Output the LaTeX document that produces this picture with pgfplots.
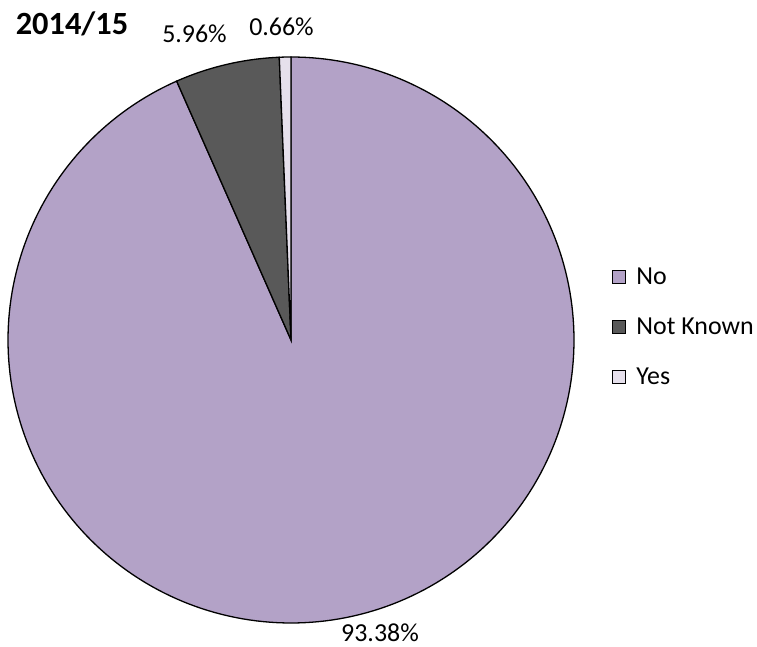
\documentclass[border=0pt]{standalone}
\usepackage{fontspec}
\setmainfont{Carlito}
\usepackage{pgfplots}
\pgfplotsset{compat=1.18}
\definecolor{cNo}{HTML}{B3A2C7}
\definecolor{cNK}{HTML}{595959}
\definecolor{cYes}{HTML}{E6E0EC}
\begin{document}
\begin{tikzpicture}
\def\cx{291}\def\cy{307}\def\r{283}
\def\vNo{93.38}\def\vNK{5.96}\def\vYes{0.66}
\pgfmathsetmacro\aA{90}
\pgfmathsetmacro\aB{90-3.6*\vNo}
\pgfmathsetmacro\aC{\aB-3.6*\vNK}
\pgfmathsetmacro\aD{\aC-3.6*\vYes}
\begin{axis}[width=757bp,height=647bp,scale only axis,
  xmin=0,xmax=757,ymin=0,ymax=647,hide axis,clip=false,
  legend style={at={(axis cs:612,320)},anchor=west,draw=none,fill=none,
    font=\fontsize{26}{30}\selectfont,row sep=0bp,inner sep=0pt,
    nodes={inner sep=0pt},
    /tikz/every even column/.append style={column sep=0bp}},
  legend cell align=left,
  legend image code/.code={\filldraw[#1,line width=1.2bp] (0bp,-6.5bp) rectangle (13bp,6.5bp);\path (23bp,-24.25bp) (23bp,24.25bp);},
]
\addplot[fill=cNo,draw=black,line width=1.3bp,domain=\aB:\aA,samples=240]
  ({\cx+\r*cos(x)},{\cy+\r*sin(x)}) -- (axis cs:\cx,\cy) -- cycle;
\addlegendentry{No}
\addplot[fill=cNK,draw=black,line width=1.3bp,domain=\aC:\aB,samples=30]
  ({\cx+\r*cos(x)},{\cy+\r*sin(x)}) -- (axis cs:\cx,\cy) -- cycle;
\addlegendentry{Not Known}
\addplot[fill=cYes,draw=black,line width=1.3bp,domain=\aD:\aC,samples=6]
  ({\cx+\r*cos(x)},{\cy+\r*sin(x)}) -- (axis cs:\cx,\cy) -- cycle;
\addlegendentry{Yes}
\node[font=\fontsize{32.5}{36}\selectfont\bfseries,anchor=base,inner sep=0pt] at (axis cs:72,612) {2014/15};
\node[font=\fontsize{26}{30}\selectfont,anchor=base,inner sep=0pt] at (axis cs:194.5,604) {5.96\%};
\node[font=\fontsize{26}{30}\selectfont,anchor=base,inner sep=0pt] at (axis cs:281.5,611) {0.66\%};
\node[font=\fontsize{26}{30}\selectfont,anchor=base,inner sep=0pt] at (axis cs:380,6) {93.38\%};
\end{axis}
\pgfresetboundingbox
\path (current axis.south west) rectangle (current axis.north east);
\end{tikzpicture}
\end{document}
